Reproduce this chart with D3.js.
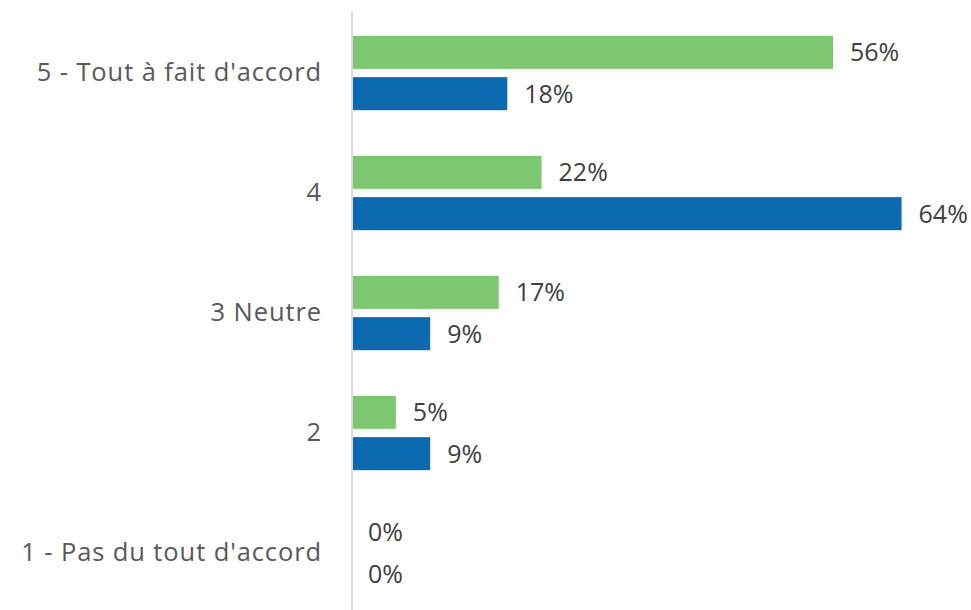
<!DOCTYPE html>
<html><head><meta charset="utf-8">
<script src="https://cdn.jsdelivr.net/npm/d3@7"></script>
<style>body{margin:0;background:#fff}svg{display:block}</style>
</head><body>
<svg id="c" width="971" height="610"></svg>
<script>
const categories = ["5 - Tout à fait d'accord", "4", "3 Neutre", "2", "1 - Pas du tout d'accord"];
const seriesNames = ["Série A", "Série B"];
const greenValues = [0.56, 0.22, 0.17, 0.05, 0.00];
const blueValues  = [0.18, 0.64, 0.09, 0.09, 0.00];
const colors = ["#7cc770", "#0c6ab1"];

const svg = d3.select("#c");
const x = d3.scaleLinear().domain([0, 0.7]).range([353, 953]);
const y = d3.scaleBand().domain(categories).range([13, 613]).paddingInner(0.38).paddingOuter(0.19);
const y1 = d3.scaleBand().domain(seriesNames).range([0, y.bandwidth()]).paddingInner(0.2);

const rows = categories.map((c, i) => ({cat: c, vals: [greenValues[i], blueValues[i]]}));
const fmt = d3.format(".0%");

const g = svg.selectAll("g.cat").data(rows).join("g").attr("class","cat")
  .attr("transform", d => `translate(0,${y(d.cat)})`);

g.selectAll("rect").data(d => d.vals.map((v, k) => ({v, k}))).join("rect")
  .attr("x", x(0))
  .attr("y", d => y1(seriesNames[d.k]))
  .attr("height", y1.bandwidth())
  .attr("width", d => x(d.v) - x(0))
  .attr("fill", d => colors[d.k]);

g.selectAll("text.val").data(d => d.vals.map((v, k) => ({v, k}))).join("text").attr("class","val")
  .attr("x", d => x(d.v) + (d.v > 0 ? 17 : 15))
  .attr("y", d => y1(seriesNames[d.k]) + y1.bandwidth()/2)
  .attr("dy", "0.36em")
  .attr("font-family", "'Open Sans', sans-serif")
  .attr("font-size", 25)
  .attr("fill", "#404040")
  .text(d => fmt(d.v));

// axis
const axis = svg.append("g").attr("transform", `translate(${x(0) - 1},0)`)
  .call(d3.axisLeft(y).tickSize(0).tickPadding(30));
axis.select(".domain").attr("stroke", "#d9d9d9").attr("stroke-width", 2).attr("d", "M0,12V610");
axis.selectAll("text")
  .attr("font-family", "'Open Sans', sans-serif")
  .attr("font-size", 25.5)
  .attr("letter-spacing", "0.9px")
  .attr("fill", "#595959");
</script>
</body></html>
